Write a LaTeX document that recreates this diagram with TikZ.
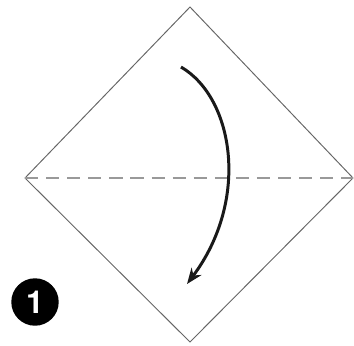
\documentclass[tikz,border=0pt]{standalone}
\usepackage{fontspec}
\setsansfont{TeX Gyre Heros}
\usepackage{tikz}
\usetikzlibrary{arrows.meta}

\begin{document}
\begin{tikzpicture}[
        x=0.02cm, y=-0.02cm,
        edge/.style={draw=gray!80!black, line width=0.55pt},
        fold/.style={draw=gray!80, line width=0.9pt, dash pattern=on 7.5pt off 4.5pt},
        arrow/.style={-{Stealth[length=9pt, width=7pt]}, line width=1.7pt, draw=black!90},
        badge/.style={circle, fill=black, minimum size=27pt, inner sep=0pt, text=white, font=\sffamily\bfseries\fontsize{18}{18}\selectfont}
    ]
        \useasboundingbox (0,0) rectangle (354,345);

        % Coins du carré
        \coordinate (top) at (190,7);
        \coordinate (left) at (25,178);
        \coordinate (right) at (353,178);
        \coordinate (bottom) at (190,342);

        % Carré posé sur la pointe
        \draw[edge] (top) -- (right) -- (bottom) -- (left) -- cycle;

        % Pli en vallée
        \draw[fold] (left) -- (right);

        % Flèche de pliage
        \coordinate (start) at (181,67);
        \coordinate (end) at (187,284);
        \draw[arrow] (start) .. controls (234,98) and (250,200) .. (end);

        % Numéro de l'étape
        \node[badge] (step1) at (35,302) {1};
    \end{tikzpicture}
\end{document}
